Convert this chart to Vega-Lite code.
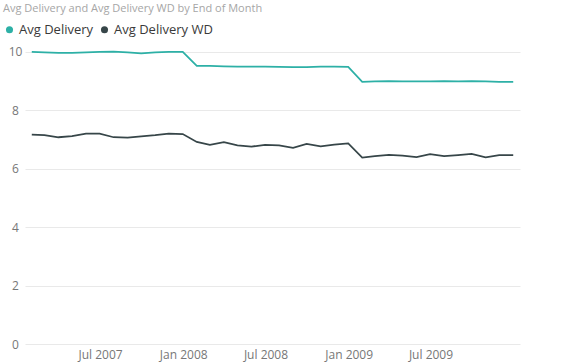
{
  "$schema": "https://vega.github.io/schema/vega-lite/v6.json",
  "width": 495,
  "height": 304,
  "autosize": {"type": "none"},
  "padding": {"left": 25, "top": 40, "right": 43, "bottom": 19},
  "background": "white",
  "title": {
    "text": "Avg Delivery and Avg Delivery WD by End of Month",
    "anchor": "start",
    "frame": "group",
    "dx": -22,
    "fontSize": 11,
    "fontWeight": "normal",
    "font": "Segoe UI, Open Sans, sans-serif",
    "color": "#a6a6a6",
    "offset": 9
  },
  "data": {
    "values": [
      {"date": "2007-01-31", "Avg Delivery": 10.00, "Avg Delivery WD": 7.17},
      {"date": "2007-02-28", "Avg Delivery": 9.99, "Avg Delivery WD": 7.15},
      {"date": "2007-03-31", "Avg Delivery": 9.97, "Avg Delivery WD": 7.08},
      {"date": "2007-04-30", "Avg Delivery": 9.97, "Avg Delivery WD": 7.12},
      {"date": "2007-05-31", "Avg Delivery": 9.99, "Avg Delivery WD": 7.20},
      {"date": "2007-06-30", "Avg Delivery": 10.00, "Avg Delivery WD": 7.20},
      {"date": "2007-07-31", "Avg Delivery": 10.01, "Avg Delivery WD": 7.08},
      {"date": "2007-08-31", "Avg Delivery": 9.99, "Avg Delivery WD": 7.07},
      {"date": "2007-09-30", "Avg Delivery": 9.95, "Avg Delivery WD": 7.11},
      {"date": "2007-10-31", "Avg Delivery": 9.99, "Avg Delivery WD": 7.15},
      {"date": "2007-11-30", "Avg Delivery": 10.00, "Avg Delivery WD": 7.20},
      {"date": "2007-12-31", "Avg Delivery": 10.00, "Avg Delivery WD": 7.19},
      {"date": "2008-01-31", "Avg Delivery": 9.52, "Avg Delivery WD": 6.92},
      {"date": "2008-02-29", "Avg Delivery": 9.52, "Avg Delivery WD": 6.82},
      {"date": "2008-03-31", "Avg Delivery": 9.51, "Avg Delivery WD": 6.91},
      {"date": "2008-04-30", "Avg Delivery": 9.50, "Avg Delivery WD": 6.80},
      {"date": "2008-05-31", "Avg Delivery": 9.50, "Avg Delivery WD": 6.76},
      {"date": "2008-06-30", "Avg Delivery": 9.50, "Avg Delivery WD": 6.82},
      {"date": "2008-07-31", "Avg Delivery": 9.49, "Avg Delivery WD": 6.80},
      {"date": "2008-08-31", "Avg Delivery": 9.48, "Avg Delivery WD": 6.72},
      {"date": "2008-09-30", "Avg Delivery": 9.48, "Avg Delivery WD": 6.85},
      {"date": "2008-10-31", "Avg Delivery": 9.50, "Avg Delivery WD": 6.77},
      {"date": "2008-11-30", "Avg Delivery": 9.50, "Avg Delivery WD": 6.83},
      {"date": "2008-12-31", "Avg Delivery": 9.49, "Avg Delivery WD": 6.87},
      {"date": "2009-01-31", "Avg Delivery": 8.98, "Avg Delivery WD": 6.38},
      {"date": "2009-02-28", "Avg Delivery": 8.99, "Avg Delivery WD": 6.43},
      {"date": "2009-03-31", "Avg Delivery": 9.00, "Avg Delivery WD": 6.48},
      {"date": "2009-04-30", "Avg Delivery": 8.99, "Avg Delivery WD": 6.45},
      {"date": "2009-05-31", "Avg Delivery": 8.99, "Avg Delivery WD": 6.40},
      {"date": "2009-06-30", "Avg Delivery": 8.99, "Avg Delivery WD": 6.50},
      {"date": "2009-07-31", "Avg Delivery": 9.00, "Avg Delivery WD": 6.43},
      {"date": "2009-08-31", "Avg Delivery": 8.99, "Avg Delivery WD": 6.47},
      {"date": "2009-09-30", "Avg Delivery": 9.00, "Avg Delivery WD": 6.51},
      {"date": "2009-10-31", "Avg Delivery": 8.99, "Avg Delivery WD": 6.39},
      {"date": "2009-11-30", "Avg Delivery": 8.98, "Avg Delivery WD": 6.47},
      {"date": "2009-12-31", "Avg Delivery": 8.98, "Avg Delivery WD": 6.47}
    ]
  },
  "transform": [
    {"fold": ["Avg Delivery", "Avg Delivery WD"], "as": ["series", "value"]}
  ],
  "mark": {"type": "line", "strokeWidth": 1.75, "interpolate": "linear"},
  "encoding": {
    "x": {
      "field": "date",
      "type": "temporal",
      "scale": {
        "type": "utc",
        "domain": [
          {"year": 2007, "month": "jan", "date": 16, "utc": true},
          {"year": 2010, "month": "jan", "date": 15, "utc": true}
        ]
      },
      "axis": {
        "title": null,
        "values": [
          {"year": 2007, "month": "jul", "date": 1, "utc": true},
          {"year": 2008, "month": "jan", "date": 1, "utc": true},
          {"year": 2008, "month": "jul", "date": 1, "utc": true},
          {"year": 2009, "month": "jan", "date": 1, "utc": true},
          {"year": 2009, "month": "jul", "date": 1, "utc": true}
        ],
        "format": "%b %Y",
        "grid": false,
        "domain": false,
        "ticks": false,
        "labelPadding": 5,
        "labelFontSize": 12,
        "labelColor": "#777777",
        "labelFont": "Segoe UI, Open Sans, sans-serif"
      }
    },
    "y": {
      "field": "value",
      "type": "quantitative",
      "scale": {"domain": [0, 10.41], "nice": false, "zero": true},
      "axis": {
        "title": null,
        "values": [0, 2, 4, 6, 8, 10],
        "grid": true,
        "gridColor": "#e9e9e9",
        "gridWidth": 1,
        "domain": false,
        "ticks": false,
        "labelAlign": "center",
        "labelPadding": 10,
        "labelFontSize": 12,
        "labelColor": "#777777",
        "labelFont": "Segoe UI, Open Sans, sans-serif"
      }
    },
    "color": {
      "field": "series",
      "type": "nominal",
      "scale": {"domain": ["Avg Delivery", "Avg Delivery WD"], "range": ["#2DB0A6", "#374649"]},
      "legend": {
        "title": null,
        "orient": "none",
        "legendX": -22,
        "legendY": -17,
        "padding": 0,
        "direction": "horizontal",
        "symbolType": "circle",
        "symbolSize": 50,
        "labelFontSize": 13,
        "labelFont": "Segoe UI, Open Sans, sans-serif",
        "labelColor": "#3a3a3a",
        "labelOffset": 3,
        "columnPadding": 4,
        "encode": {
          "symbols": {
            "update": {
              "fill": {"scale": "color", "field": "value"},
              "strokeWidth": {"value": 0}
            }
          }
        }
      }
    }
  },
  "config": {
    "view": {"stroke": null},
    "legend": {"symbolOpacity": 1}
  }
}
